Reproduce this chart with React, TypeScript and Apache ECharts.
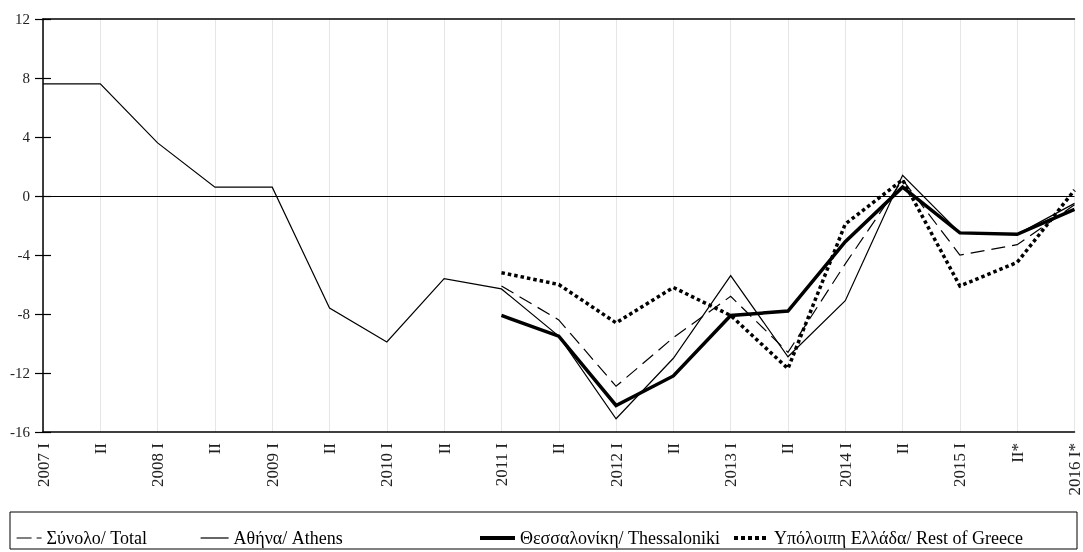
import React, { useEffect, useRef } from "react";
import * as echarts from "echarts";

const categories = [
  "2007 I", "II", "2008 I", "II", "2009 I", "II", "2010 I", "II", "2011 I", "II",
  "2012 I", "II", "2013 I", "II", "2014 I", "II", "2015 I", "II*", "2016 I*",
];

const seriesNames = ["Σύνολο/ Total", "Αθήνα/ Athens", "Θεσσαλονίκη/ Thessaloniki", "Υπόλοιπη Ελλάδα/ Rest of Greece"];

const total = [null, null, null, null, null, null, null, null, -6.1, -8.4, -12.9, -9.6, -6.8, -10.6, -4.6, 1.1, -4.0, -3.3, -0.6];
const athens = [7.6, 7.6, 3.6, 0.6, 0.6, -7.6, -9.9, -5.6, -6.3, -9.5, -15.1, -11.0, -5.4, -10.9, -7.1, 1.4, -2.5, -2.6, -0.5];
const thessaloniki = [null, null, null, null, null, null, null, null, -8.1, -9.5, -14.2, -12.2, -8.1, -7.8, -3.1, 0.6, -2.5, -2.6, -0.9];
const restOfGreece = [null, null, null, null, null, null, null, null, -5.2, -6.0, -8.6, -6.2, -8.1, -11.7, -1.9, 1.1, -6.1, -4.5, 0.4];

const yMin = -16;
const yMax = 12;
const yStep = 4;

export default function App() {
  const ref = useRef<HTMLDivElement>(null);
  useEffect(() => {
    const chart = echarts.init(ref.current!, null, { renderer: "svg" });
    const font = "'Liberation Serif', 'Times New Roman', serif";
    const styles: any[] = [
      { color: "#000", width: 1.2, type: [14, 7] },
      { color: "#000", width: 1.2, type: "solid" },
      { color: "#000", width: 3.5, type: "solid" },
      { color: "#000", width: 3.5, type: [3.5, 3] },
    ];
    const legendStyles: any[] = [
      { color: "#000", width: 1.2, type: [15, 5] },
      { color: "#000", width: 1.2, type: "solid" },
      { color: "#000", width: 4, type: "solid" },
      { color: "#000", width: 4, type: [4, 3] },
    ];
    const legendLefts = [16, 200, 478, 732];
    const legendWidths = [25, 28, 35, 35];
    const data = [total, athens, thessaloniki, restOfGreece];

    chart.setOption({
      animation: false,
      grid: { left: 43, right: 8, top: 19, bottom: 120 },
      graphic: [
        {
          type: "rect",
          shape: { x: 10, y: 512, width: 1067, height: 37 },
          style: { fill: "none", stroke: "#000", lineWidth: 1 },
          silent: true,
        },
      ],
      legend: seriesNames.map((name, i) => ({
        left: legendLefts[i],
        top: 529,
        padding: 0,
        itemWidth: legendWidths[i],
        itemHeight: 14,
        selectedMode: false,
        textStyle: { fontFamily: font, fontSize: 18, color: "#000" },
        data: [{ name, lineStyle: legendStyles[i], itemStyle: { color: "#000", opacity: 0 } }],
      })),
      xAxis: [
        {
          type: "category",
          data: categories,
          boundaryGap: false,
          position: "bottom",
          axisLine: { onZero: false, lineStyle: { color: "#000", width: 1.5 } },
          axisTick: { show: false },
          axisLabel: {
            interval: 0,
            rotate: 90,
            margin: 11,
            fontFamily: font,
            fontSize: 17,
            color: "#222",
          },
          splitLine: { show: true, interval: 0, lineStyle: { color: "#e6e6e6", width: 1 } },
        },
        {
          type: "category",
          data: categories,
          boundaryGap: false,
          position: "top",
          axisLine: { onZero: false, lineStyle: { color: "#000", width: 1.5 } },
          axisTick: { show: false },
          axisLabel: { show: false },
          splitLine: { show: false },
        },
      ],
      yAxis: [
        {
          type: "value",
          min: yMin,
          max: yMax,
          interval: yStep,
          position: "left",
          axisLine: { show: true, lineStyle: { color: "#000", width: 1.5 } },
          axisTick: { show: true, length: 8, lineStyle: { color: "#000", width: 1.2 } },
          axisLabel: { margin: 13, fontFamily: font, fontSize: 15, color: "#222" },
          splitLine: { show: false },
        },
        {
          type: "value",
          min: yMin,
          max: yMax,
          interval: yStep,
          position: "left",
          axisLine: { show: false },
          axisTick: { show: true, inside: true, length: 8, lineStyle: { color: "#000", width: 1.2 } },
          axisLabel: { show: false },
          splitLine: { show: false },
        },
      ],
      series: seriesNames.map((name, i) => ({
        name,
        type: "line",
        xAxisIndex: 0,
        yAxisIndex: 0,
        data: data[i],
        symbol: "none",
        connectNulls: false,
        lineStyle: { ...styles[i], cap: "butt", join: "miter" },
        itemStyle: { color: "#000" },
        z: 3 + i,
        markLine:
          i === 1
            ? {
                silent: true,
                symbol: "none",
                label: { show: false },
                lineStyle: { color: "#000", width: 1, type: "solid" },
                data: [{ yAxis: 0 }],
              }
            : undefined,
      })),
    });
    return () => chart.dispose();
  }, []);
  return (
    <div
      ref={ref}
      style={{ position: "fixed", left: 0, top: 0, width: 1083, height: 552 }}
    />
  );
}
